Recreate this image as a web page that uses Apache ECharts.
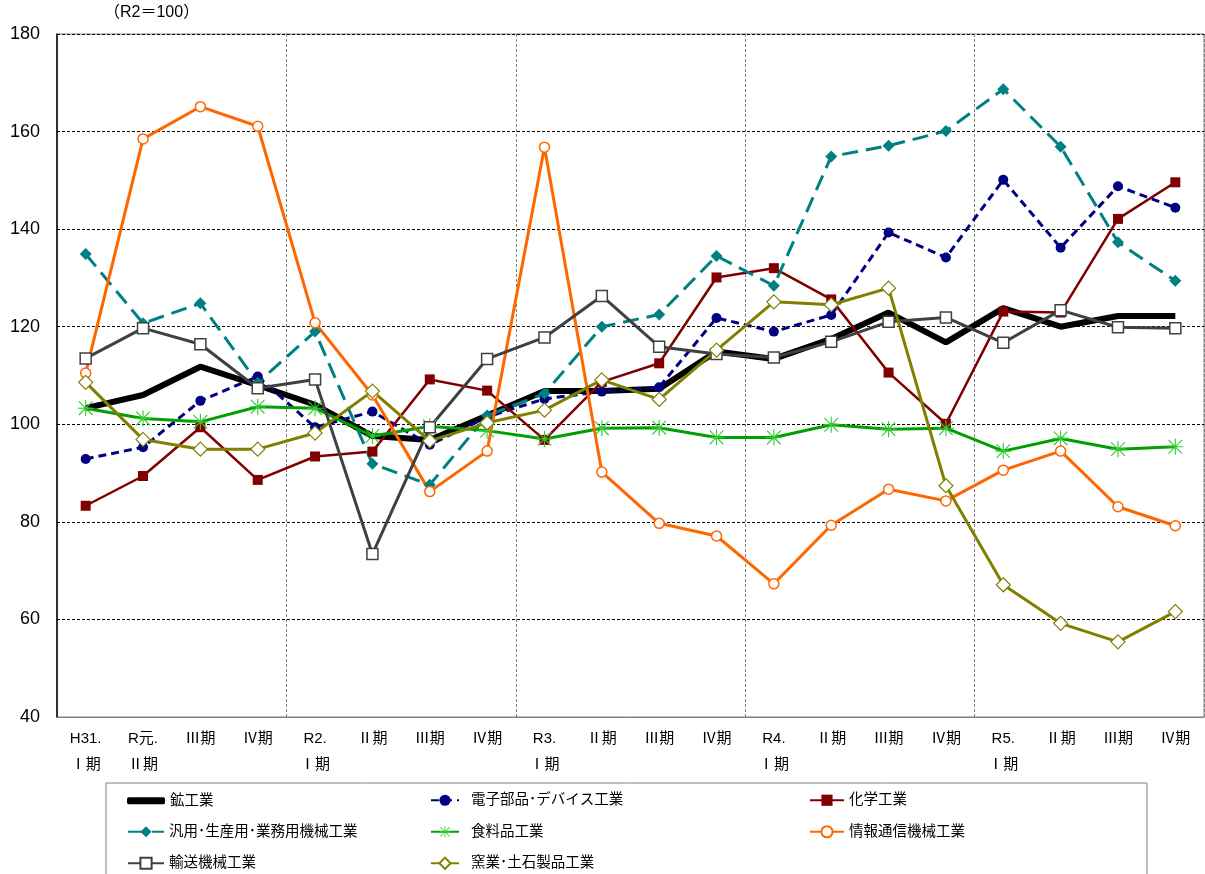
<!DOCTYPE html>
<html><head><meta charset="utf-8">
<script src="https://cdn.jsdelivr.net/npm/echarts@6/dist/echarts.min.js"></script>
<style>html,body{margin:0;padding:0;background:#fff}#c{width:1205px;height:874px}</style>
</head><body><div id="c"></div>
<script>
const categories = ['H31.\nⅠ期','R元.\nⅡ期','Ⅲ期','Ⅳ期','R2.\nⅠ期','Ⅱ期','Ⅲ期','Ⅳ期','R3.\nⅠ期','Ⅱ期','Ⅲ期','Ⅳ期','R4.\nⅠ期','Ⅱ期','Ⅲ期','Ⅳ期','R5.\nⅠ期','Ⅱ期','Ⅲ期','Ⅳ期'];
const yTicks = [40, 60, 80, 100, 120, 140, 160, 180];
const mining = [103.3, 106.0, 111.8, 108.0, 104.0, 97.6, 96.8, 101.8, 106.8, 106.8, 107.3, 114.9, 113.4, 117.5, 122.9, 116.8, 123.8, 120.0, 122.2, 122.2];
const electronics = [92.9, 95.3, 104.8, 109.8, 99.4, 102.6, 95.8, 101.5, 105.2, 106.7, 107.6, 121.8, 119.0, 122.4, 139.3, 134.2, 150.1, 136.2, 148.8, 144.4];
const chemical = [83.3, 89.4, 99.4, 88.6, 93.4, 94.4, 109.2, 106.9, 96.8, 108.7, 112.5, 130.1, 132.0, 125.6, 110.6, 100.1, 123.1, 122.9, 142.1, 149.6];
const machinery = [134.9, 120.7, 124.8, 108.5, 119.0, 91.9, 87.6, 101.8, 106.3, 120.0, 122.5, 134.5, 128.4, 154.9, 157.1, 160.1, 168.7, 156.9, 137.3, 129.4];
const food = [103.3, 101.2, 100.5, 103.6, 103.3, 97.6, 99.6, 98.7, 97.0, 99.2, 99.3, 97.3, 97.3, 99.9, 99.0, 99.2, 94.5, 97.1, 94.9, 95.4];
const infoComm = [110.5, 158.5, 165.1, 161.1, 120.8, 106.0, 86.2, 94.5, 156.8, 90.2, 79.7, 77.1, 67.3, 79.3, 86.7, 84.3, 90.6, 94.5, 83.1, 79.2];
const transport = [113.5, 119.7, 116.4, 107.4, 109.2, 73.4, 99.4, 113.4, 117.8, 126.3, 115.9, 114.4, 113.7, 116.9, 121.0, 121.9, 116.7, 123.4, 119.9, 119.7];
const ceramics = [108.6, 96.9, 94.9, 94.9, 98.2, 106.8, 96.6, 100.3, 102.9, 109.1, 105.1, 115.2, 125.1, 124.5, 127.9, 87.4, 67.1, 59.2, 55.4, 61.6];
const names = ['鉱工業','電子部品･デバイス工業','化学工業','汎用･生産用･業務用機械工業','食料品工業','情報通信機械工業','輸送機械工業','窯業･土石製品工業'];

const FONT = "'Liberation Sans','Noto Sans CJK JP',sans-serif";
const asterisk = 'path://M9.3,0 L10.7,0 L10.7,20 L9.3,20 Z M1,2 L2,1 L19,18 L18,19 Z M18,1 L19,2 L2,19 L1,18 Z M0,9.3 L20,9.3 L20,10.7 L0,10.7 Z';

const chart = echarts.init(document.getElementById('c'), null, {renderer:'canvas'});
const colX = [127, 430, 809];
const rowC = [800, 831.5, 863];
function lg(i, col, row, extra) {
  return Object.assign({
    orient:'horizontal', left:colX[col], top:rowC[row]-7, itemWidth:36, itemHeight:14, padding:0,
    textStyle:{fontSize:14.5, color:'#000', fontFamily:FONT}, selectedMode:false,
    data:[names[i]]
  }, extra || {});
}
const col2Text = {fontSize:14.5, color:'#000', fontFamily:FONT, padding:[0,0,0,7]};
chart.setOption({
  animation:false,
  backgroundColor:'#fff',
  title:{text:'（R2＝100）', left:104, top:5, padding:0, textStyle:{fontSize:16, fontWeight:'normal', color:'#000', fontFamily:FONT}},
  grid:{left:57, right:1, top:34, bottom:157, show:true, borderColor:'#808080', borderWidth:1},
  graphic:[{type:'rect', shape:{x:106, y:783, width:1041, height:100}, style:{fill:'none', stroke:'#808080', lineWidth:1}, z:-1}],
  legend:[
    lg(0,0,0,{top:rowC[0]-6.5, itemHeight:7, itemWidth:38, data:[{name:names[0], icon:'roundRect'}]}),
    lg(1,1,0,{itemWidth:28, textStyle:col2Text}),
    lg(2,2,0,{itemWidth:34}),
    lg(3,0,1,{itemWidth:36}),
    lg(4,1,1,{itemWidth:28, textStyle:col2Text}),
    lg(5,2,1,{itemWidth:34}),
    lg(6,0,2,{itemWidth:36}),
    lg(7,1,2,{itemWidth:28, textStyle:col2Text})
  ],
  xAxis:{type:'category', data:categories, boundaryGap:true,
    axisLine:{lineStyle:{color:'#808080', width:1}},
    axisTick:{show:false},
    axisLabel:{fontSize:15, color:'#000', lineHeight:26, margin:9, fontFamily:FONT, interval:0},
    splitLine:{show:true, interval:function(idx){ return idx > 0 && idx % 4 === 0; }, lineStyle:{color:'#808080', type:[3,2], width:1}}
  },
  yAxis:{type:'value', min:yTicks[0], max:yTicks[yTicks.length-1], interval:20,
    axisLine:{show:true, lineStyle:{color:'#000', width:1.5}},
    axisTick:{show:false},
    axisLabel:{fontSize:18, color:'#000', margin:17, fontFamily:FONT},
    splitLine:{lineStyle:{color:'#000', type:[3,2], width:1}}
  },
  series:[
    {name:names[0], type:'line', data:mining, symbol:'none', lineStyle:{color:'#000', width:6}, itemStyle:{color:'#000'}},
    {name:names[1], type:'line', data:electronics, symbol:'circle', symbolSize:10, lineStyle:{color:'#000080', width:3, type:[8,5]}, itemStyle:{color:'#000080'}},
    {name:names[2], type:'line', data:chemical, symbol:'rect', symbolSize:10, lineStyle:{color:'#800000', width:2.5}, itemStyle:{color:'#800000'}},
    {name:names[3], type:'line', data:machinery, symbol:'diamond', symbolSize:12, lineStyle:{color:'#008080', width:3, type:[16,8]}, itemStyle:{color:'#008080'}},
    {name:names[4], type:'line', data:food, symbol:asterisk, symbolSize:16, lineStyle:{color:'#00A000', width:3}, itemStyle:{color:'#33CC33'}},
    {name:names[5], type:'line', data:infoComm, symbol:'circle', symbolSize:10, lineStyle:{color:'#FF6600', width:3}, itemStyle:{color:'#fff', borderColor:'#FF6600', borderWidth:1.5}},
    {name:names[6], type:'line', data:transport, symbol:'rect', symbolSize:11, lineStyle:{color:'#404040', width:3}, itemStyle:{color:'#fff', borderColor:'#404040', borderWidth:1.5}},
    {name:names[7], type:'line', data:ceramics, symbol:'diamond', symbolSize:14, lineStyle:{color:'#808000', width:3}, itemStyle:{color:'#fff', borderColor:'#808000', borderWidth:1.2}}
  ]
});
</script></body></html>
